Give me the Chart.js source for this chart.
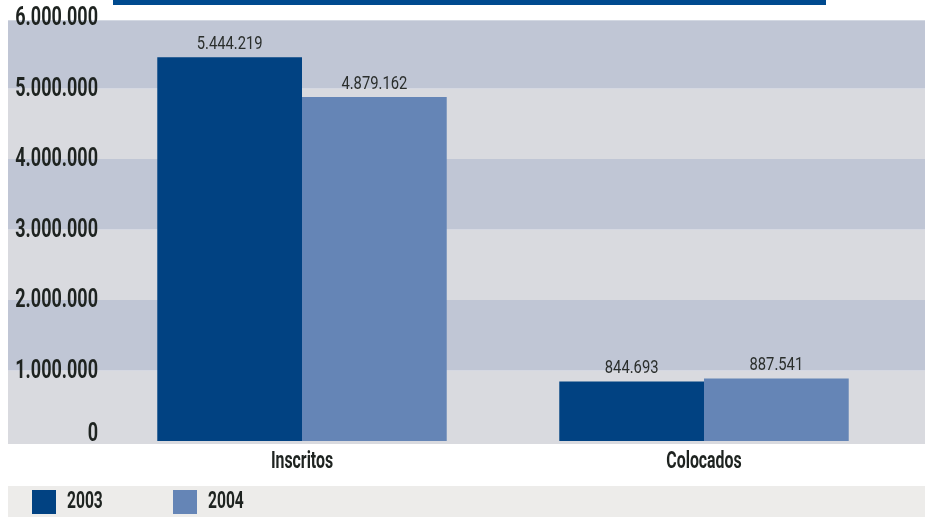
<!DOCTYPE html>
<html>
<head>
<meta charset="utf-8">
<script src="https://cdn.jsdelivr.net/npm/chart.js@4/dist/chart.umd.min.js"></script>
<style>
  html, body { margin: 0; padding: 0; background: #fff; }
  #wrap { width: 925px; height: 517px; }
</style>
</head>
<body>
<div id="wrap"><canvas id="grafica" width="925" height="517"></canvas></div>
<script>
// Datos
const categorias = ["Inscritos", "Colocados"];
const series = ["2003", "2004"];
const valores2003 = [5444219, 844693];
const valores2004 = [4879162, 887541];
const ticksY = [0, 1000000, 2000000, 3000000, 4000000, 5000000, 6000000];

const FUENTE = "Roboto, 'Liberation Sans', sans-serif";
const colores = ["#014282", "#6585b6"];
const TINTA = "#1e2320";

// miles con punto
function fmt(n) {
    return String(n).replace(/\B(?=(\d{3})+(?!\d))/g, ".");
}

// texto estrecho (la fuente original es condensada)
function texto(c, t, x, y, align, sx) {
    c.save();
    c.translate(x, y);
    c.scale(sx, 1);
    c.textAlign = align;
    c.fillText(t, 0, 0);
    c.restore();
}

const fondo = {
    id: "fondo",
    beforeDraw(chart) {
        const c = chart.ctx;
        const y = chart.scales.y;
        const w = chart.width;
        c.save();
        // bandas alternas
        for (let i = 0; i < ticksY.length - 1; i++) {
            let y0 = y.getPixelForValue(ticksY[i]);
            let y1 = y.getPixelForValue(ticksY[i + 1]);
            if (i === 0) y0 += 3;
            if (i === ticksY.length - 2) y1 += 3;
            c.fillStyle = i % 2 === 0 ? "#d9dadf" : "#c0c6d5";
            c.fillRect(8, y1, w - 8, y0 - y1);
        }
        c.fillStyle = "#d3d8e2";
        c.fillRect(8, y.getPixelForValue(6000000) + 2, w - 8, 1);
        // barra superior
        c.fillStyle = "#004a8f";
        c.fillRect(113, 0, 713, 5);
        // franja de la leyenda
        c.fillStyle = "#edecea";
        c.fillRect(8, 486, w - 8, 31);
        c.restore();
    },
    afterDraw(chart) {
        const c = chart.ctx;
        const ys = chart.scales.y;
        const xs = chart.scales.x;
        c.save();
        c.fillStyle = TINTA;
        c.textBaseline = "middle";
        // etiquetas eje Y
        c.font = "bold 25px " + FUENTE;
        ticksY.forEach(v => {
            const py = ys.getPixelForValue(v) + (v === 0 ? -6 : 1);
            texto(c, fmt(v), 98, py, "right", 0.72);
        });
        // etiquetas eje X
        c.font = "bold 23px " + FUENTE;
        categorias.forEach((cat, i) => {
            texto(c, cat, xs.getPixelForValue(i), 462, "center", 0.69);
        });
        // leyenda
        c.font = "bold 24px " + FUENTE;
        const lx = [32, 173];
        chart.data.datasets.forEach((ds, i) => {
            c.fillStyle = ds.backgroundColor;
            c.fillRect(lx[i], 490, 24, 24);
            c.fillStyle = TINTA;
            texto(c, ds.label, lx[i] + 35, 502, "left", 0.65);
        });
        // valores encima de las barras
        c.font = "18px " + FUENTE;
        c.textBaseline = "alphabetic";
        c.fillStyle = "#2a2e2c";
        chart.data.datasets.forEach((ds, i) => {
            chart.getDatasetMeta(i).data.forEach((bar, j) => {
                texto(c, fmt(ds.data[j]), bar.x, bar.y - 8, "center", 0.82);
            });
        });
        c.restore();
    }
};

const ctx = document.getElementById("grafica");
const chart = new Chart(ctx, {
    type: "bar",
    data: {
        labels: categorias,
        datasets: [
            { label: series[0], data: valores2003, backgroundColor: colores[0] },
            { label: series[1], data: valores2004, backgroundColor: colores[1] }
        ]
    },
    options: {
        responsive: false,
        animation: false,
        devicePixelRatio: 1,
        layout: { padding: { top: 18, right: 20, left: 0, bottom: 0 } },
        datasets: {
            bar: { categoryPercentage: 0.72, barPercentage: 1.0 }
        },
        plugins: {
            legend: { display: false },
            tooltip: { enabled: false }
        },
        scales: {
            x: {
                grid: { display: false, drawTicks: false },
                border: { display: false },
                ticks: { display: false },
                afterFit(axis) { axis.height = 76; }
            },
            y: {
                min: 0,
                max: 6000000,
                grid: { display: false, drawTicks: false },
                border: { display: false },
                ticks: { display: false },
                afterFit(axis) { axis.width = 101; }
            }
        }
    },
    plugins: [fondo]
});
</script>
</body>
</html>
